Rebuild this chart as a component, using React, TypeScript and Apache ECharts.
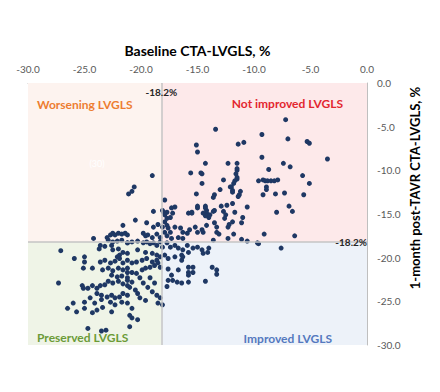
import React, { useEffect, useRef } from "react";
import * as echarts from "echarts";

const axisMin = -30;
const axisMax = 0;
const axisStep = 5;
const cutoff = -18.2;
const cutoffLabel = "-18.2%";
const xAxisTitle = "Baseline CTA-LVGLS, %";
const yAxisTitle = "1-month post-TAVR CTA-LVGLS, %";
const quadrantLabels = ["Worsening LVGLS", "Not improved LVGLS", "Preserved LVGLS", "Improved LVGLS"];
const quadrantColors = ["#FDF3EF", "#FDE9EA", "#EFF4E7", "#EDF2F9"];
const quadrantTextColors = ["#ED7D31", "#E3262F", "#6B9B37", "#5479BF"];
const hiddenNote = "(30)";

// [baseline CTA-LVGLS, 1-month post-TAVR CTA-LVGLS]
const groupA: [number, number][] = [
  [-7.2, -4.2], [-13.4, -5.3], [-9.3, -5.9], [-7.0, -6.4], [-5.3, -6.7], [-5.1, -6.9], [-11.4, -7.0], [-10.9, -6.8], [-9.3, -8.5], [-3.5, -8.7],
  [-14.3, -9.2], [-12.3, -9.2], [-11.5, -9.2], [-7.4, -9.2], [-6.8, -9.6], [-8.7, -9.9], [-11.5, -10.0], [-11.6, -10.4], [-14.6, -10.4], [-5.7, -10.6],
  [-12.7, -11.1], [-11.5, -11.0], [-11.7, -11.2], [-11.8, -11.5], [-9.6, -11.2], [-9.2, -11.1], [-9.0, -11.2], [-8.8, -11.2], [-8.5, -11.2], [-8.2, -11.2],
  [-7.9, -11.1], [-14.6, -11.5], [-5.1, -11.5], [-12.0, -11.9], [-11.9, -12.3], [-11.9, -12.5], [-8.9, -11.9], [-8.9, -12.2], [-13.0, -12.2], [-11.2, -12.4],
  [-11.4, -13.0], [-9.2, -12.8], [-8.1, -12.7], [-7.3, -12.6], [-5.6, -12.8], [-13.5, -12.8], [-13.6, -13.1], [-14.3, -14.1], [-14.2, -14.6], [-12.9, -14.1],
  [-12.4, -14.0], [-11.9, -13.8], [-10.6, -14.2], [-13.5, -14.6], [-13.6, -14.7], [-12.7, -14.7], [-11.7, -14.8], [-6.9, -14.1], [-6.6, -14.7], [-8.0, -14.8],
  [-14.2, -14.9], [-14.1, -15.1], [-14.0, -15.4], [-14.3, -15.2], [-12.5, -15.1], [-12.6, -15.5], [-11.0, -15.4], [-11.9, -15.9], [-11.1, -16.0], [-14.2, -16.3],
  [-13.5, -16.0], [-13.3, -16.5], [-12.3, -16.5], [-12.2, -16.2], [-14.5, -17.1], [-13.3, -17.1], [-13.1, -17.3], [-11.8, -17.3], [-9.1, -17.3], [-6.4, -17.5],
  [-12.3, -17.8], [-11.1, -17.9], [-10.6, -18.1], [-9.7, -18.3], [-9.6, -18.4], [-13.6, -18.0], [-7.6, -18.9], [-14.0, -18.9],
];

const groupB: [number, number][] = [
  [-15.1, -7.1], [-15.0, -7.9], [-15.6, -10.3], [-14.7, -10.3], [-15.1, -12.7], [-11.5, -9.8], [-11.5, -10.8], [-12.1, -11.9], [-11.3, -12.8], [-17.9, -13.4],
  [-18.1, -14.6], [-17.7, -14.8], [-17.3, -14.3], [-17.0, -14.2], [-15.5, -14.8], [-15.0, -14.3], [-15.0, -14.1], [-14.3, -14.3], [-13.9, -15.1], [-19.0, -10.6],
  [-20.6, -11.9], [-20.8, -12.4], [-21.1, -12.7], [-18.9, -14.7], [-18.0, -14.8], [-17.9, -15.1], [-17.7, -15.5], [-17.4, -15.4], [-17.2, -14.9], [-15.8, -14.9],
  [-15.5, -14.9], [-14.5, -14.9], [-20.5, -15.7], [-19.5, -16.0], [-18.9, -16.5], [-18.5, -16.2], [-17.9, -15.9], [-17.7, -16.3], [-18.1, -16.5], [-17.6, -16.6],
  [-17.9, -17.1], [-17.4, -17.1], [-17.0, -16.5], [-16.5, -16.6], [-16.3, -17.1], [-15.9, -17.2], [-15.7, -16.8], [-15.2, -16.5], [-15.0, -17.1], [-14.6, -16.8],
  [-19.8, -17.2], [-19.6, -17.5], [-19.4, -17.4], [-19.0, -17.7], [-18.6, -17.3], [-18.3, -17.7], [-17.7, -17.5], [-17.3, -17.8], [-16.7, -17.7], [-16.3, -17.8],
  [-21.2, -18.3], [-20.8, -18.2], [-20.3, -18.1], [-19.8, -18.3], [-19.5, -18.2], [-19.2, -18.4], [-18.9, -18.3], [-18.6, -18.6], [-18.3, -18.2], [-18.1, -18.8],
  [-17.7, -18.3], [-17.4, -18.8], [-17.0, -18.6], [-16.7, -18.9], [-16.3, -19.1], [-15.9, -18.6], [-15.8, -19.4], [-15.4, -18.9], [-15.0, -18.8], [-14.6, -19.1],
  [-20.3, -19.1], [-19.6, -19.4], [-19.0, -19.5], [-18.6, -19.7], [-18.3, -19.9], [-17.9, -19.7], [-17.6, -20.1], [-17.0, -19.9], [-16.4, -19.7],
];

const groupC: [number, number][] = [
  [-13.7, -21.1], [-13.3, -21.4], [-13.3, -21.9], [-14.3, -22.7], [-15.4, -21.1], [-15.4, -21.7], [-15.8, -21.1], [-15.8, -21.7], [-15.8, -22.0], [-15.8, -22.8],
  [-16.4, -22.9], [-16.8, -22.8], [-14.1, -19.4], [-14.5, -19.5], [-16.3, -19.9], [-16.4, -20.3], [-16.7, -21.4], [-17.3, -22.0], [-17.6, -22.6], [-17.7, -23.3],
  [-17.6, -21.3], [-17.2, -22.6],
];

const groupD: [number, number][] = [
  [-21.6, -16.3], [-24.2, -17.8], [-23.0, -17.7], [-22.7, -17.4], [-22.5, -17.2], [-22.3, -17.4], [-22.0, -17.2], [-21.7, -17.3], [-21.4, -17.2], [-21.2, -17.4],
  [-22.9, -18.0], [-22.5, -18.2], [-22.1, -18.1], [-21.7, -18.0], [-21.2, -18.3], [-23.6, -18.6], [-23.7, -19.0], [-23.2, -18.7], [-22.6, -18.6], [-22.5, -19.1],
  [-22.0, -19.0], [-21.6, -19.4], [-21.2, -19.5], [-27.1, -19.2], [-25.9, -20.1], [-25.0, -19.9], [-22.1, -19.9], [-21.9, -19.7], [-25.0, -20.5], [-24.3, -21.2],
  [-25.1, -21.2], [-23.6, -20.5], [-23.2, -20.3], [-22.7, -20.6], [-22.3, -20.4], [-21.9, -20.1], [-21.6, -20.6], [-21.2, -20.3], [-23.4, -21.4], [-22.9, -21.2],
  [-22.5, -21.5], [-22.0, -21.2], [-21.6, -21.4], [-21.2, -21.7], [-22.6, -22.0], [-22.1, -22.2], [-21.7, -22.1], [-21.2, -22.3], [-27.3, -22.9], [-25.2, -23.2],
  [-25.1, -23.5], [-24.7, -23.5], [-24.3, -23.2], [-23.9, -23.5], [-23.6, -23.2], [-23.2, -23.1], [-22.9, -22.7], [-22.5, -22.9], [-22.0, -22.7], [-21.6, -23.0],
  [-21.2, -23.2], [-23.9, -24.1], [-23.5, -24.3], [-23.0, -24.5], [-22.6, -24.3], [-22.3, -24.6], [-21.9, -24.5], [-21.6, -24.1], [-21.2, -24.3], [-26.0, -25.2],
  [-25.0, -25.1], [-24.5, -24.6], [-24.1, -25.2], [-23.5, -24.8], [-22.7, -25.1], [-22.3, -25.4], [-21.7, -25.1], [-21.2, -25.2], [-26.5, -25.8], [-25.7, -26.2],
  [-25.0, -25.8], [-24.3, -26.3], [-23.9, -26.0], [-23.4, -25.7], [-22.6, -26.2], [-24.7, -28.1], [-23.5, -28.4], [-23.1, -28.3], [-21.0, -27.9],
];

const groupE: [number, number][] = [
  [-21.2, -21.2], [-20.8, -21.7], [-20.4, -21.8], [-19.9, -21.4], [-19.6, -21.2], [-19.2, -21.1], [-18.8, -20.9], [-18.5, -20.6], [-18.3, -21.1], [-18.6, -20.3],
  [-19.0, -20.5], [-19.5, -20.1], [-19.9, -20.3], [-20.4, -20.5], [-20.8, -20.6], [-21.2, -22.6], [-20.8, -22.8], [-21.0, -23.4], [-20.5, -23.7], [-20.3, -24.1],
  [-19.8, -22.9], [-19.4, -23.4], [-19.0, -23.9], [-18.6, -24.3], [-20.1, -24.6], [-19.6, -24.9], [-18.3, -24.6], [-18.1, -25.4], [-18.5, -25.2], [-20.8, -25.8],
  [-20.8, -26.9], [-20.3, -27.1], [-21.0, -26.6], [-19.2, -22.3], [-18.8, -22.9], [-20.1, -22.3],
];

const FONT = "Lato, 'Open Sans', 'DejaVu Sans', sans-serif";

export default function App() {
  const ref = useRef<HTMLDivElement>(null);

  useEffect(() => {
    if (!ref.current) return;
    const chart = echarts.init(ref.current, null, { renderer: "svg" });
    const points = [...groupA, ...groupB, ...groupC, ...groupD, ...groupE];
    const fmt = (v: number) => v.toFixed(1);

    const quadrants: [number, number, number, number][] = [
      [axisMin, axisMax, cutoff, cutoff],
      [cutoff, axisMax, axisMax, cutoff],
      [axisMin, cutoff, cutoff, axisMin],
      [cutoff, cutoff, axisMax, axisMin],
    ];

    chart.setOption({
      animation: false,
      grid: { left: 28, right: 73, top: 83, bottom: 47 },
      xAxis: {
        type: "value",
        position: "top",
        min: axisMin,
        max: axisMax,
        interval: axisStep,
        name: xAxisTitle,
        nameLocation: "middle",
        nameGap: 26,
        nameTextStyle: { fontSize: 14, fontWeight: "bold", color: "#000", fontFamily: FONT },
        axisLine: { show: true, onZero: false, lineStyle: { color: "#BFBFBF", width: 1 } },
        axisTick: { show: false },
        axisLabel: { margin: 9, color: "#595959", fontSize: 10, fontFamily: FONT, formatter: fmt },
        splitLine: { show: false },
      },
      yAxis: {
        type: "value",
        position: "right",
        min: axisMin,
        max: axisMax,
        interval: axisStep,
        axisLine: { show: true, onZero: false, lineStyle: { color: "#BFBFBF", width: 1 } },
        axisTick: { show: false },
        axisLabel: { margin: 10, color: "#595959", fontSize: 10, fontFamily: FONT, formatter: fmt },
        splitLine: { show: false },
      },
      series: [
        {
          type: "scatter",
          data: points,
          symbol: "circle",
          symbolSize: 5,
          itemStyle: { color: "#1F3864", opacity: 1 },
          z: 3,
          markArea: {
            silent: true,
            label: { show: false },
            data: quadrants.map((q, i) => [
              { coord: [q[0], q[1]], itemStyle: { color: quadrantColors[i], opacity: 1 } },
              { coord: [q[2], q[3]] },
            ]),
          },
          markLine: {
            silent: true,
            symbol: "none",
            label: { show: false },
            lineStyle: { color: "#C4C4C4", width: 1.5, type: "solid" },
            data: [{ xAxis: cutoff }, { yAxis: cutoff }],
          },
        },
      ],
    });

    const toPx = (p: number[]) => chart.convertToPixel({ gridIndex: 0 }, p) as number[];
    const [cx, cy] = toPx([cutoff, cutoff]);
    const [lx, ty] = toPx([axisMin, axisMax]);
    const [rx, by] = toPx([axisMax, axisMin]);

    const qFont = `bold 12px ${FONT}`;
    chart.setOption({
      graphic: [
        { type: "text", x: cx, y: ty + 9, z: 10, style: { text: cutoffLabel, align: "center", verticalAlign: "middle", font: `bold 10px ${FONT}`, fill: "#262626" } },
        { type: "text", x: rx, y: cy, z: 10, style: { text: cutoffLabel, align: "right", verticalAlign: "middle", font: `bold 10px ${FONT}`, fill: "#262626" } },
        { type: "text", x: lx + 9, y: ty + 21, z: 10, style: { text: quadrantLabels[0], align: "left", verticalAlign: "middle", font: qFont, fill: quadrantTextColors[0] } },
        { type: "text", x: rx - 24, y: ty + 20, z: 10, style: { text: quadrantLabels[1], align: "right", verticalAlign: "middle", font: qFont, fill: quadrantTextColors[1] } },
        { type: "text", x: lx + 9, y: by - 8, z: 10, style: { text: quadrantLabels[2], align: "left", verticalAlign: "middle", font: qFont, fill: quadrantTextColors[2] } },
        { type: "text", x: rx - 35, y: by - 7, z: 10, style: { text: quadrantLabels[3], align: "right", verticalAlign: "middle", font: qFont, fill: quadrantTextColors[3] } },
        { type: "text", x: lx + 69, y: ty + 80, z: 10, style: { text: hiddenNote, align: "center", verticalAlign: "middle", font: `9px ${FONT}`, fill: "#FFFFFF" } },
        { type: "text", x: rx + 48, y: 188, rotation: Math.PI / 2, z: 10, style: { text: yAxisTitle, align: "center", verticalAlign: "middle", font: `bold 13px ${FONT}`, fill: "#000" } },
      ],
    });

    return () => chart.dispose();
  }, []);

  return <div ref={ref} style={{ position: "absolute", left: 0, top: 0, width: 440, height: 392 }} />;
}
